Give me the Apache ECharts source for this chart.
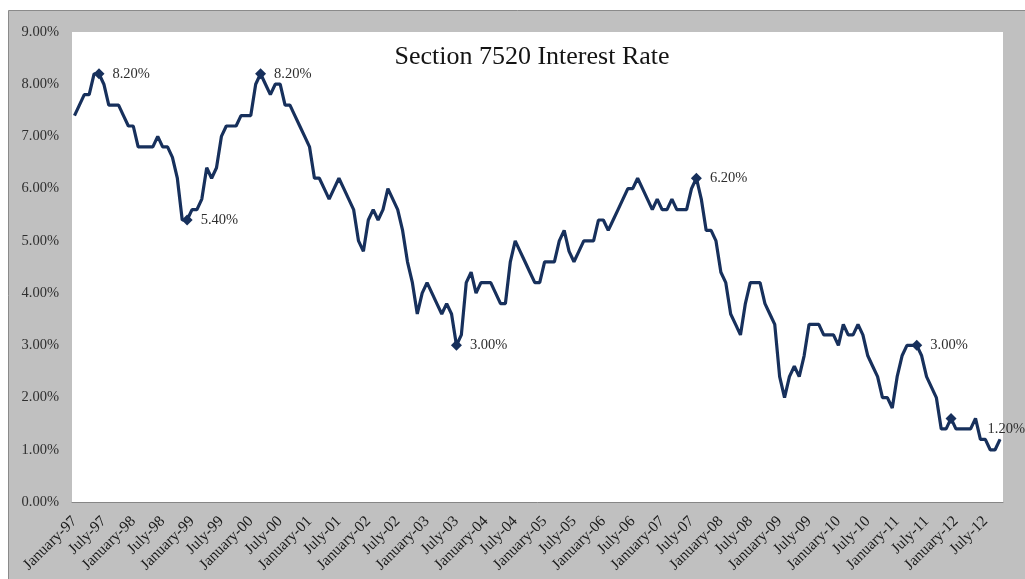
<!DOCTYPE html>
<html>
<head>
<meta charset="utf-8">
<script src="https://cdn.jsdelivr.net/npm/echarts@6/dist/echarts.min.js"></script>
<style>
html,body{margin:0;padding:0;background:#fff;}
#c{width:1025px;height:579px;}
</style>
</head>
<body>
<div id="c"></div>
<script>
// ---- data ----
const titleText = 'Section 7520 Interest Rate';
const monthNames = ['January','February','March','April','May','June','July','August','September','October','November','December'];
const yearLabels = ['97','98','99','00','01','02','03','04','05','06','07','08','09','10','11','12'];
const rates1997 = [7.4, 7.6, 7.8, 7.8, 8.2, 8.2, 8.0, 7.6, 7.6, 7.6, 7.4, 7.2];
const rates1998 = [7.2, 6.8, 6.8, 6.8, 6.8, 7.0, 6.8, 6.8, 6.6, 6.2, 5.4, 5.4];
const rates1999 = [5.6, 5.6, 5.8, 6.4, 6.2, 6.4, 7.0, 7.2, 7.2, 7.2, 7.4, 7.4];
const rates2000 = [7.4, 8.0, 8.2, 8.0, 7.8, 8.0, 8.0, 7.6, 7.6, 7.4, 7.2, 7.0];
const rates2001 = [6.8, 6.2, 6.2, 6.0, 5.8, 6.0, 6.2, 6.0, 5.8, 5.6, 5.0, 4.8];
const rates2002 = [5.4, 5.6, 5.4, 5.6, 6.0, 5.8, 5.6, 5.2, 4.6, 4.2, 3.6, 4.0];
const rates2003 = [4.2, 4.0, 3.8, 3.6, 3.8, 3.6, 3.0, 3.2, 4.2, 4.4, 4.0, 4.2];
const rates2004 = [4.2, 4.2, 4.0, 3.8, 3.8, 4.6, 5.0, 4.8, 4.6, 4.4, 4.2, 4.2];
const rates2005 = [4.6, 4.6, 4.6, 5.0, 5.2, 4.8, 4.6, 4.8, 5.0, 5.0, 5.0, 5.4];
const rates2006 = [5.4, 5.2, 5.4, 5.6, 5.8, 6.0, 6.0, 6.2, 6.0, 5.8, 5.6, 5.8];
const rates2007 = [5.6, 5.6, 5.8, 5.6, 5.6, 5.6, 6.0, 6.2, 5.8, 5.2, 5.2, 5.0];
const rates2008 = [4.4, 4.2, 3.6, 3.4, 3.2, 3.8, 4.2, 4.2, 4.2, 3.8, 3.6, 3.4];
const rates2009 = [2.4, 2.0, 2.4, 2.6, 2.4, 2.8, 3.4, 3.4, 3.4, 3.2, 3.2, 3.2];
const rates2010 = [3.0, 3.4, 3.2, 3.2, 3.4, 3.2, 2.8, 2.6, 2.4, 2.0, 2.0, 1.8];
const rates2011 = [2.4, 2.8, 3.0, 3.0, 3.0, 2.8, 2.4, 2.2, 2.0, 1.4, 1.4, 1.6];
const rates2012 = [1.4, 1.4, 1.4, 1.4, 1.6, 1.2, 1.2, 1.0, 1.0, 1.2];
const rates = [].concat(rates1997, rates1998, rates1999, rates2000, rates2001, rates2002,
  rates2003, rates2004, rates2005, rates2006, rates2007, rates2008, rates2009, rates2010,
  rates2011, rates2012);
// points that carry a diamond marker / a value label (indices into rates)
const markerIndex = [5, 23, 38, 78, 127, 172, 179];
const labelIndex = [5, 23, 38, 78, 127, 172, 189];
const yMin = 0, yMax = 9, yStep = 1;

// categories built from month names and years
const categories = [];
for (let y = 0; y < yearLabels.length; y++) {
  for (let m = 0; m < 12; m++) {
    if (categories.length < rates.length) categories.push(monthNames[m] + '-' + yearLabels[y]);
  }
}

const FONT = '"Liberation Serif", "DejaVu Serif", serif';
const LINE = '#17305c';

const items = rates.map((v, i) => {
  const hasMarker = markerIndex.indexOf(i) >= 0;
  const hasLabel = labelIndex.indexOf(i) >= 0;
  const it = { value: v };
  if (hasMarker) { it.symbol = 'diamond'; it.symbolSize = 11; }
  else if (hasLabel) { it.symbol = 'circle'; it.symbolSize = 1; }
  if (hasLabel) {
    it.label = hasMarker
      ? { show: true, position: 'right', distance: 8 }
      : { show: true, position: [-12, -10], align: 'left', verticalAlign: 'middle' };
  }
  return it;
});

const chart = echarts.init(document.getElementById('c'), null, { renderer: 'canvas' });
chart.setOption({
  animation: false,
  backgroundColor: '#ffffff',
  graphic: [
    { type: 'rect', z: -10, silent: true,
      shape: { x: 8.5, y: 10.5, width: 1040, height: 600 },
      style: { fill: '#c0c0c0', stroke: '#8a8a8a', lineWidth: 1 } },
    { type: 'text', z: 10, silent: true,
      style: { x: 532, y: 57, text: titleText, font: '26px ' + FONT, fill: '#141414',
               align: 'center', verticalAlign: 'middle', textAlign: 'center', textVerticalAlign: 'middle' } }
  ],
  grid: [
    { left: 72, top: 32, width: 931, height: 470, show: true, backgroundColor: '#ffffff', borderWidth: 0 },
    { left: 74.5, top: 32, width: 925.5, height: 470 }
  ],
  xAxis: [
    { gridIndex: 0, type: 'category', data: categories, boundaryGap: false,
      axisLine: { show: true, lineStyle: { color: '#868686', width: 1 } },
      axisTick: { show: false }, axisLabel: { show: false }, splitLine: { show: false } },
    { gridIndex: 1, type: 'category', data: categories, boundaryGap: false,
      axisLine: { show: false }, axisTick: { show: false }, splitLine: { show: false },
      axisLabel: { interval: 5, rotate: 45, margin: 17, fontFamily: FONT, fontSize: 15.5, color: '#1a1a1a' } }
  ],
  yAxis: [
    { gridIndex: 0, type: 'value', min: yMin, max: yMax, show: false },
    { gridIndex: 1, type: 'value', min: yMin, max: yMax, interval: yStep,
      axisLine: { show: false }, axisTick: { show: false }, splitLine: { show: false },
      axisLabel: { margin: 15.5, fontFamily: FONT, fontSize: 14.5, color: '#2e2e2e',
                   formatter: v => v.toFixed(2) + '%' } }
  ],
  series: [{
    type: 'line', xAxisIndex: 1, yAxisIndex: 1,
    data: items, symbol: 'none', showSymbol: true, showAllSymbol: true,
    lineStyle: { color: LINE, width: 3.2 },
    itemStyle: { color: LINE },
    label: { show: false, fontFamily: FONT, fontSize: 14.5, color: '#2e2e2e',
             formatter: p => p.value.toFixed(2) + '%' },
    emphasis: { disabled: true }
  }]
});
</script>
</body>
</html>
